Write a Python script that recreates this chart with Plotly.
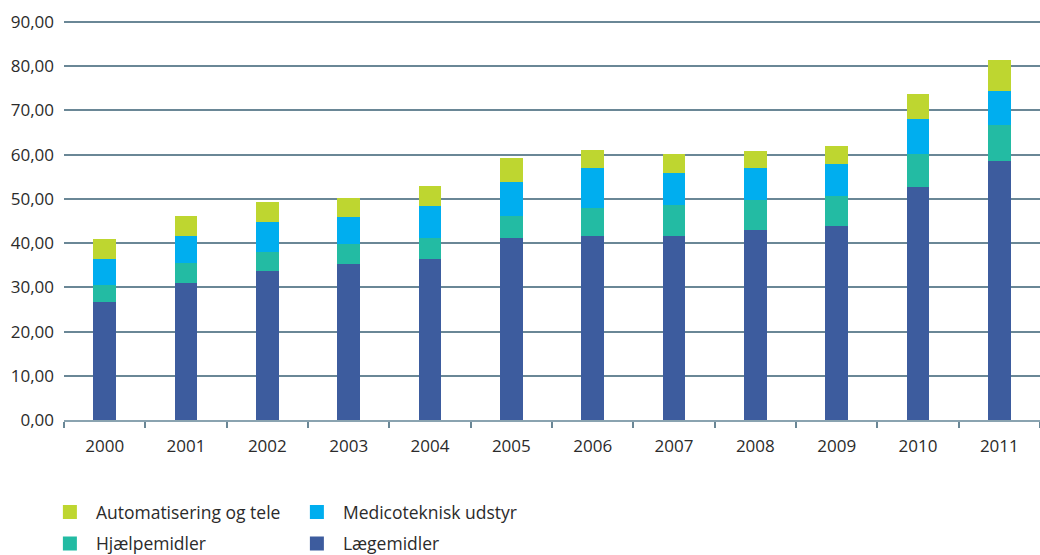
import plotly.graph_objects as go

years = ["2000", "2001", "2002", "2003", "2004", "2005", "2006", "2007", "2008", "2009", "2010", "2011"]
laegemidler = [26.9, 31.2, 33.9, 35.5, 36.6, 41.4, 41.8, 41.8, 43.2, 44.1, 52.9, 58.8]
hjaelpemidler = [3.85, 4.5, 4.3, 4.5, 4.8, 5.0, 6.4, 7.0, 6.8, 6.8, 7.5, 8.1]
medicoteknisk = [5.9, 6.1, 6.8, 6.1, 7.2, 7.6, 9.0, 7.3, 7.2, 7.2, 7.9, 7.7]
automatisering = [4.1, 4.1, 4.1, 3.9, 4.1, 5.0, 3.6, 3.8, 3.4, 3.6, 5.2, 6.6]
y_ticks = [0, 10, 20, 30, 40, 50, 60, 70, 80, 90]

font_family = "Open Sans, Noto Sans, sans-serif"
text_color = "#2b2b2b"

series = [
    ("Lægemidler", laegemidler, "#3d5c9e", "legend2", 2),
    ("Hjælpemidler", hjaelpemidler, "#23bba3", "legend2", 1),
    ("Medicoteknisk udstyr", medicoteknisk, "#00aeef", "legend", 2),
    ("Automatisering og tele", automatisering, "#bed630", "legend", 1),
]

fig = go.Figure()
for name, vals, color, leg, rank in series:
    fig.add_trace(go.Bar(x=years, y=vals, name=name,
                         marker=dict(color=color, line=dict(color=color, width=2)),
                         legend=leg, legendrank=rank))

legend_common = dict(
    orientation="h", xref="container", yref="container", x=0.0422,
    xanchor="left", yanchor="middle", entrywidth=190, entrywidthmode="pixels",
    itemwidth=42,
    font=dict(family=font_family, size=17.5, color=text_color), bgcolor="rgba(0,0,0,0)",
    traceorder="normal", itemclick=False,
)

fig.update_layout(
    width=1040, height=555,
    margin=dict(l=64, r=0, t=18, b=135, autoexpand=False),
    barmode="stack", bargap=0.742,
    plot_bgcolor="white", paper_bgcolor="white",
    separators=",.",
    font=dict(family=font_family, size=17, color=text_color),
    showlegend=True,
    legend=dict(legend_common, y=1 - 512 / 555),
    legend2=dict(legend_common, y=1 - 543.5 / 555),
    xaxis=dict(
        type="category", tickson="boundaries", ticks="outside", ticklen=6,
        tickcolor="#6a8796", tickwidth=1.5, showline=True, linecolor="#8aa3b0", linewidth=1.5,
        showgrid=False, tickfont=dict(size=17, color=text_color), ticklabelstandoff=10,
    ),
    yaxis=dict(
        range=[0, 90.9], tickvals=y_ticks, tickformat=".2f", showgrid=True,
        gridcolor="#6a8796", gridwidth=1.5, zeroline=False, showline=False,
        ticks="", tickfont=dict(size=17, color=text_color), ticklabelstandoff=9,
    ),
)

fig.write_html("out.html", config={"displayModeBar": False},
               post_script="document.body.style.margin='0';")
